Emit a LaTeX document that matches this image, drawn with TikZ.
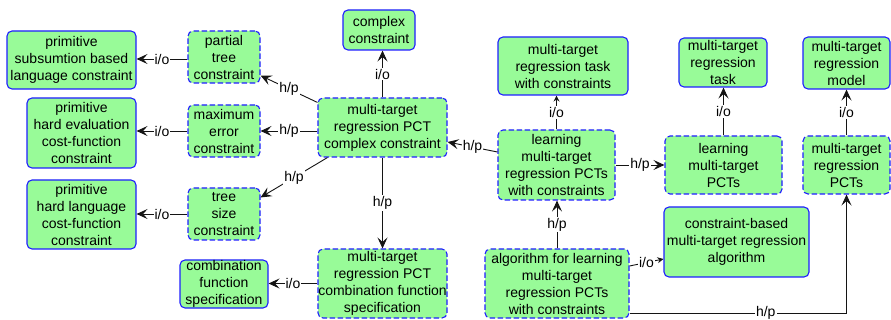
\documentclass[tikz,border=0pt]{standalone}
\usepackage{fontspec}
\setmainfont{Liberation Sans}
\usetikzlibrary{arrows.meta}
\definecolor{boxfill}{RGB}{152,251,152}
\definecolor{boxline}{RGB}{30,30,255}
\definecolor{edgecol}{RGB}{20,20,20}
\tikzset{
  box/.style={draw=boxline, fill=boxfill, line width=1.1pt, rounded corners=5pt,
    align=center, inner xsep=0pt, inner ysep=0pt,
    font=\fontsize{14}{17}\selectfont},
  dbox/.style={box, dash pattern=on 5.5pt off 2.5pt},
  edge/.style={draw=edgecol, line width=0.9pt, -{Stealth[length=11pt,width=10pt,inset=4.5pt]}},
  sedge/.style={draw=edgecol, line width=0.9pt, -{Stealth[length=6pt,width=6pt,inset=2pt]}},
  lab/.style={fill=white, inner sep=1pt, font=\fontsize{14}{17}\selectfont, text=black}
}
\begin{document}
\begin{tikzpicture}[x=1pt,y=1pt]
\useasboundingbox (0,0) rectangle (891,-320);
% nodes
\node[box, minimum width=129, minimum height=58] (psub) at (71.5,-60) {primitive\\subsumtion based\\language constraint};
\node[dbox, minimum width=72, minimum height=52] (partial) at (224,-57) {partial\\tree\\constraint};
\node[box, minimum width=109, minimum height=70] (pheval) at (81.5,-133) {primitive\\hard evaluation\\cost-function\\constraint};
\node[dbox, minimum width=72, minimum height=52] (maxerr) at (224,-131) {maximum\\error\\constraint};
\node[box, minimum width=109, minimum height=69] (phlang) at (81.5,-214.5) {primitive\\hard language\\cost-function\\constraint};
\node[dbox, minimum width=72, minimum height=52] (treesize) at (224,-214) {tree\\size\\constraint};
\node[box, minimum width=88, minimum height=48] (combspec) at (224,-284) {combination\\function\\specification};
\node[box, minimum width=72, minimum height=40] (complex) at (379,-30) {complex\\constraint};
\node[dbox, minimum width=129, minimum height=59] (mtrcc) at (382.5,-127.5) {multi-target\\regression PCT\\complex constraint};
\node[dbox, minimum width=129, minimum height=69] (mtrcomb) at (382.5,-283.5) {multi-target\\regression PCT\\combination function\\specification};
\node[box, minimum width=130, minimum height=58] (taskc) at (563,-66) {multi-target\\regression task\\with constraints};
\node[dbox, minimum width=117, minimum height=70] (learnc) at (556.5,-165) {learning\\multi-target\\regression PCTs\\with constraints};
\node[box, minimum width=88, minimum height=49] (task) at (723,-62.5) {multi-target\\regression\\task};
\node[box, minimum width=87, minimum height=52] (model) at (846.5,-63) {multi-target\\regression\\model};
\node[dbox, minimum width=117, minimum height=58] (learn) at (723.5,-165) {learning\\multi-target\\PCTs};
\node[dbox, minimum width=87, minimum height=58] (pcts) at (846.5,-165) {multi-target\\regression\\PCTs};
\node[box, minimum width=145, minimum height=70] (cbalg) at (736.5,-242) {constraint-based\\multi-target regression\\algorithm};
\node[dbox, minimum width=144, minimum height=69] (alg) at (557,-283.5) {algorithm for learning\\multi-target\\regression PCTs\\with constraints};
% edges
\draw[edge] ([yshift=-2pt]partial.west) -- node[lab]{i/o} ([yshift=-2pt]partial.west -| psub.east);
\draw[edge] (maxerr.west) -- node[lab]{i/o} (maxerr.west -| pheval.east);
\draw[edge] (treesize.west) -- node[lab]{i/o} (treesize.west -| phlang.east);
\draw[edge] (mtrcomb.west) -- node[lab]{i/o} (mtrcomb.west -| combspec.east);
\draw[edge] ([yshift=-5pt]mtrcc.north west) -- node[lab]{h/p} ([yshift=8pt]partial.south east);
\draw[edge] (mtrcc.west |- maxerr.east) -- node[lab]{h/p} (maxerr.east);
\draw[edge] ([xshift=10pt]mtrcc.south west) -- node[lab]{h/p} ([yshift=-10pt]treesize.north east);
\draw[edge] (mtrcc.north) -- node[lab]{i/o} (mtrcc.north |- complex.south);
\draw[edge] (mtrcc.south) -- node[lab]{h/p} (mtrcomb.north);
\draw[edge] ([yshift=13pt]learnc.west) -- node[lab]{h/p} ([yshift=-14.5pt]mtrcc.east);
\draw[sedge] (learnc.north) -- node[lab]{i/o} (learnc.north |- taskc.south);
\draw[edge] (learnc.east) -- node[lab]{h/p} (learn.west);
\draw[edge] (learn.north) -- node[lab]{i/o} (learn.north |- task.south);
\draw[edge] (pcts.north) -- node[lab]{i/o} (model.south);
\draw[edge] (alg.north) -- node[lab]{h/p} (alg.north |- learnc.south);
\draw[sedge] ([yshift=17.5pt]alg.east) -- node[lab]{i/o} ([yshift=-17pt]cbalg.west);
\draw[edge] ([yshift=-29.5pt]alg.east) -| node[lab, pos=0.314]{h/p} (pcts.south);
\end{tikzpicture}
\end{document}
